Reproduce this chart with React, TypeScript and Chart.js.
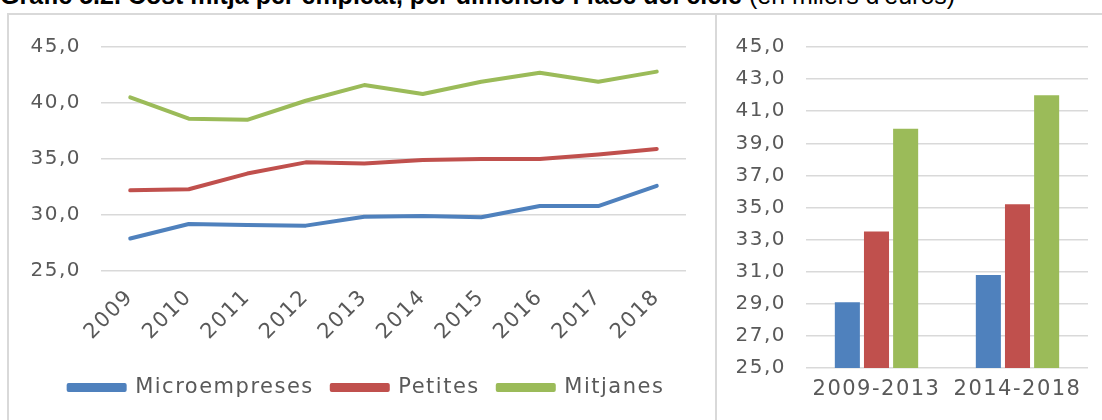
import React, { useEffect, useRef } from "react";
import { Chart, registerables } from "chart.js";

Chart.register(...registerables);

const years = ["2009", "2010", "2011", "2012", "2013", "2014", "2015", "2016", "2017", "2018"];
const microempreses = [27.9, 29.2, 29.1, 29.05, 29.85, 29.9, 29.8, 30.8, 30.8, 32.6];
const petites = [32.2, 32.3, 33.7, 34.7, 34.6, 34.9, 35.0, 35.0, 35.4, 35.9];
const mitjanes = [40.5, 38.6, 38.5, 40.2, 41.6, 40.8, 41.9, 42.7, 41.9, 42.8];

const periods = ["2009-2013", "2014-2018"];
const microPeriod = [29.1, 30.8];
const petitesPeriod = [33.5, 35.2];
const mitjanesPeriod = [39.9, 42.0];

const seriesNames = ["Microempreses", "Petites", "Mitjanes"];
const BLUE = "#4f81bd";
const RED = "#c0504d";
const GREEN = "#9bbb59";
const TEXT = "#595959";
const GRID = "#d9d9d9";
const FONT = "'DejaVu Sans', sans-serif";

const fmt = (v: any) => Number(v).toFixed(1).replace(".", ",");

const spacingPlugin = {
  id: "letterSpacing",
  beforeUpdate(chart: any) {
    chart.ctx.letterSpacing = "1.5px";
  },
  beforeLayout(chart: any) {
    chart.ctx.letterSpacing = "1.5px";
  },
  beforeDraw(chart: any) {
    chart.ctx.letterSpacing = "1.5px";
  },
};

const legendShiftPlugin = {
  id: "legendShift",
  afterLayout(chart: any) {
    const l = chart.legend;
    if (l) {
      l.left += 19;
      l.right += 19;
      l.top += 3;
      l.bottom += 3;
    }
  },
};

function LineChart() {
  const ref = useRef<HTMLCanvasElement>(null);
  useEffect(() => {
    const chart = new Chart(ref.current!, {
      type: "line",
      data: {
        labels: years,
        datasets: [
          { label: seriesNames[0], data: microempreses, borderColor: BLUE, backgroundColor: BLUE },
          { label: seriesNames[1], data: petites, borderColor: RED, backgroundColor: RED },
          { label: seriesNames[2], data: mitjanes, borderColor: GREEN, backgroundColor: GREEN },
        ].map((d) => ({
          ...d,
          borderWidth: 4,
          pointRadius: 0,
          tension: 0,
          borderCapStyle: "round" as const,
          borderJoinStyle: "round" as const,
        })),
      },
      plugins: [spacingPlugin, legendShiftPlugin],
      options: {
        animation: false,
        responsive: false,
        layout: { padding: { left: 0, right: 28, top: 27, bottom: 15 } },
        plugins: {
          tooltip: { enabled: false },
          legend: {
            position: "bottom",
            labels: {
              boxWidth: 56,
              boxHeight: 5,
              padding: 18,
              color: TEXT,
              font: { family: FONT, size: 21 },
            },
          },
        },
        scales: {
          x: {
            offset: true,
            grid: { display: false },
            border: { display: false },
            ticks: {
              minRotation: 45,
              maxRotation: 45,
              padding: 6,
              color: TEXT,
              font: { family: FONT, size: 21 },
              autoSkip: false,
            },
            afterFit: (s: any) => {
              s.height = 85;
            },
          },
          y: {
            min: 25,
            max: 45,
            grid: { color: GRID, lineWidth: 1.5, drawTicks: false },
            border: { display: false },
            ticks: {
              stepSize: 5,
              padding: 20,
              color: TEXT,
              font: { family: FONT, size: 20 },
              callback: fmt,
            },
            afterFit: (s: any) => {
              s.width = 92;
            },
          },
        },
      },
    } as any);
    return () => chart.destroy();
  }, []);
  return (
    <canvas
      ref={ref}
      width={705}
      height={405}
      style={{ position: "absolute", left: 9, top: 15, width: 705, height: 405 }}
    />
  );
}

function BarChart() {
  const ref = useRef<HTMLCanvasElement>(null);
  useEffect(() => {
    const chart = new Chart(ref.current!, {
      type: "bar",
      data: {
        labels: periods,
        datasets: [
          { label: seriesNames[0], data: microPeriod, backgroundColor: BLUE },
          { label: seriesNames[1], data: petitesPeriod, backgroundColor: RED },
          { label: seriesNames[2], data: mitjanesPeriod, backgroundColor: GREEN },
        ].map((d) => ({ ...d, categoryPercentage: 0.62, barPercentage: 0.86 })),
      },
      plugins: [spacingPlugin],
      options: {
        animation: false,
        responsive: false,
        layout: { padding: { left: 0, right: 12, top: 27, bottom: 12 } },
        plugins: {
          tooltip: { enabled: false },
          legend: { display: false },
        },
        scales: {
          x: {
            grid: { display: false },
            border: { display: false },
            ticks: {
              padding: 1,
              maxRotation: 0,
              color: TEXT,
              font: { family: FONT, size: 21 },
            },
            afterFit: (s: any) => {
              s.height = 40;
            },
          },
          y: {
            min: 25,
            max: 45,
            grid: { color: GRID, lineWidth: 1.5, drawTicks: false },
            border: { display: false },
            ticks: {
              stepSize: 2,
              padding: 20,
              color: TEXT,
              font: { family: FONT, size: 20 },
              callback: fmt,
            },
            afterFit: (s: any) => {
              s.width = 89;
            },
          },
        },
      },
    } as any);
    return () => chart.destroy();
  }, []);
  return (
    <canvas
      ref={ref}
      width={383}
      height={405}
      style={{ position: "absolute", left: 717, top: 15, width: 383, height: 405 }}
    />
  );
}

export default function App() {
  return (
    <div
      style={{
        position: "fixed",
        left: 0,
        top: 0,
        width: 1102,
        height: 420,
        background: "#fff",
        overflow: "hidden",
      }}
    >
      <div
        style={{
          position: "absolute",
          left: 0,
          top: -17,
          whiteSpace: "nowrap",
          fontFamily: "'Liberation Sans', Arial, sans-serif",
          fontSize: 25,
          lineHeight: "25px",
          color: "#000",
        }}
      >
        <b>Gràfic 5.2. Cost mitjà per empleat, per dimensió i fase del cicle</b> (en milers d'euros)
      </div>
      <div
        style={{
          position: "absolute",
          left: 7,
          top: 13,
          width: 710,
          height: 500,
          border: `2px solid ${GRID}`,
          boxSizing: "border-box",
        }}
      />
      <div
        style={{
          position: "absolute",
          left: 715,
          top: 13,
          width: 390,
          height: 500,
          border: `2px solid ${GRID}`,
          boxSizing: "border-box",
        }}
      />
      <LineChart />
      <BarChart />
    </div>
  );
}
